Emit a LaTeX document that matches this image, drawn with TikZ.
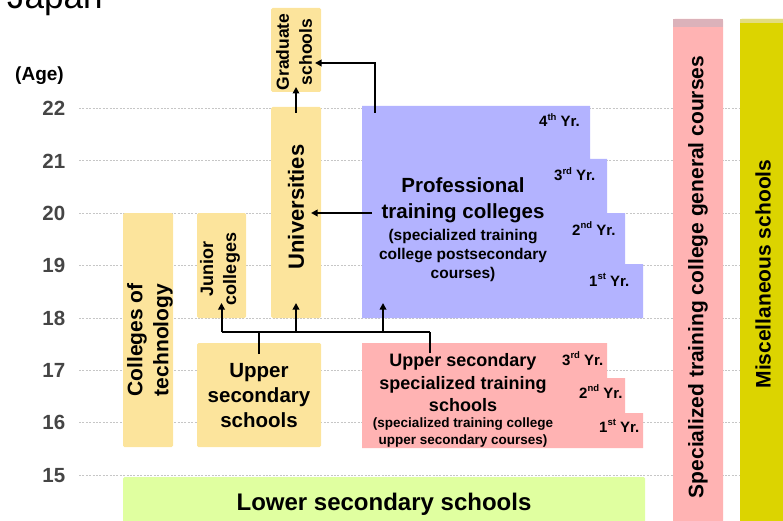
\documentclass[tikz,border=0pt]{standalone}
\usepackage{fontspec}
\setmainfont{Liberation Sans}
\usetikzlibrary{arrows.meta}
\definecolor{yb}{HTML}{FCE49C}
\definecolor{bl}{HTML}{B3B3FF}
\definecolor{pk}{HTML}{FFB3B3}
\definecolor{pkd}{HTML}{DBB2BA}
\definecolor{ol}{HTML}{DCD400}
\definecolor{old}{HTML}{E2DC80}
\definecolor{gr}{HTML}{E0FFA0}
\definecolor{agegray}{HTML}{454545}
\newcommand{\yrlab}[2]{#1\raisebox{0.42em}{\fontsize{9.5}{9.5}\selectfont #2} Yr.}
\begin{document}
\begin{tikzpicture}[x=1pt,y=-1pt,
  boxst/.style={inner sep=0pt, outer sep=0pt, rounded corners=1.5pt},
  txt/.style={inner sep=0pt, outer sep=0pt, align=center},
  fs/.style 2 args={font=\fontsize{#1}{#2}\selectfont\bfseries},
  agelab/.style={inner sep=0pt, anchor=east, text=agegray, font=\fontsize{20.5}{22}\selectfont\bfseries},
  yr/.style={inner sep=0pt, anchor=base west, font=\fontsize{15}{17}\selectfont\bfseries},
  dotline/.style={gray!45, line width=1pt, dash pattern=on 2pt off 1.4pt},
  conn/.style={line width=2pt, black},
  tip/.style={conn, -{Triangle[length=6.5pt,width=6.5pt]}}]
\useasboundingbox (0,0) rectangle (783,521);
% title and age axis
\node[inner sep=0pt, anchor=base west, font=\fontsize{35}{40}\selectfont] (title) at (7,9) {Japan};
\node[inner sep=0pt, font=\fontsize{19}{22}\selectfont\bfseries] (agehd) at (39.5,76) {(Age)};
\foreach \a in {15,...,22}{
  \pgfmathsetmacro{\yy}{108.5+(22-\a)*52.4}
  \draw[dotline] (79,\yy) -- (783,\yy);
  \node[agelab] (age\a) at (65.5,\yy) {\a};
}
% boxes
\node[boxst, fill=yb, minimum width=50pt, minimum height=234pt] (cot) at (148,330) {};
\node[boxst, fill=yb, minimum width=49pt, minimum height=105pt] (jc) at (221.5,265.5) {};
\node[boxst, fill=yb, minimum width=50pt, minimum height=211pt] (univ) at (296,212.5) {};
\node[boxst, fill=yb, minimum width=50pt, minimum height=84pt] (grad) at (296,50) {};
\node[boxst, fill=yb, minimum width=124pt, minimum height=104pt] (us) at (259,395) {};
\node[boxst, fill=gr, minimum width=522pt, minimum height=46pt] (lower) at (384,500) {};
\node[boxst, fill=pk, minimum width=50pt, minimum height=504pt] (stc) at (698,271) {};
\fill[pkd] (673,19) rectangle (723,27);
\node[boxst, fill=ol, minimum width=45pt, minimum height=504pt] (misc) at (762.5,271) {};
\fill[old] (740,19) rectangle (785,23);
% staircases
\fill[bl] (362,106) -- (590,106) -- (590,159) -- (607,159) -- (607,213) -- (625,213)
  -- (625,264) -- (643,264) -- (643,318) -- (362,318) -- cycle;
\fill[pk] (362,343) -- (607,343) -- (607,378) -- (625,378) -- (625,413) -- (643,413)
  -- (643,448) -- (362,448) -- cycle;
\coordinate (ptcTop) at (375,106);
\coordinate (ptcLeft) at (362,213);
\coordinate (ptcBot) at (383,318);
\coordinate (ustsTop) at (430,343);
\coordinate (junc) at (0,332);
% texts
\node[txt, fs={21}{26}, rotate=90] (cotT) at (150,340) {Colleges of\\technology};
\node[txt, fs={18}{23}, rotate=90] (jcT) at (220,269) {Junior\\colleges};
\node[txt, fs={22}{26}, rotate=90] (univT) at (296,207) {Universities};
\node[txt, fs={17.5}{23}, rotate=90] (gradT) at (294,52) {Graduate\\schools};
\node[txt, fs={20.5}{25}] (usT) at (259,395.5) {Upper\\secondary\\schools};
\node[txt, fs={20.5}{26}] (ptcT) at (463,200) {Professional\\training colleges};
\node[txt, fs={15.5}{19}] (ptcS) at (463,255) {(specialized training\\college postsecondary\\courses)};
\node[txt, fs={18}{22.5}] (ustsT) at (463,383) {Upper secondary\\specialized training\\schools};
\node[txt, fs={13.5}{17}] (ustsS) at (463,433) {(specialized training college\\upper secondary courses)};
\node[txt, fs={24}{28}] (lowerT) at (384,504) {Lower secondary schools};
\node[txt, fs={21}{26}, rotate=90] (stcT) at (698,277) {Specialized training college general courses};
\node[txt, fs={21}{26}, rotate=90] (miscT) at (763,274) {Miscellaneous schools};
% year labels
\node[yr] (b4) at (539,127) {\yrlab{4}{th}};
\node[yr] (b3) at (554,181) {\yrlab{3}{rd}};
\node[yr] (b2) at (572,235) {\yrlab{2}{nd}};
\node[yr] (b1) at (589,286) {\yrlab{1}{st}};
\node[yr] (p3) at (562,365) {\yrlab{3}{rd}};
\node[yr] (p2) at (579,398) {\yrlab{2}{nd}};
\node[yr] (p1) at (599,432) {\yrlab{1}{st}};
% connectors
\draw[conn] ([yshift=-11pt]us.north) -- (us.north |- junc);
\draw[conn] ([yshift=-10pt]ustsTop) -- (ustsTop |- junc);
\draw[conn] (jc.south |- junc) -- (ustsTop |- junc);
\draw[tip] (jc.south |- junc) -- ([yshift=15pt]jc.south);
\draw[tip] (univ.south |- junc) -- ([yshift=15pt]univ.south);
\draw[tip] (ptcBot |- junc) -- ([yshift=15pt]ptcBot);
\draw[tip] ([xshift=10pt]ptcLeft) -- ([xshift=-10pt]univ.east |- ptcLeft);
\draw[tip] ([yshift=-6pt]univ.north) -- ([yshift=5pt]grad.south);
\draw[tip] ([yshift=-7pt]ptcTop) |- ([shift={(-6pt,-13pt)}]grad.east);
\end{tikzpicture}
\end{document}
